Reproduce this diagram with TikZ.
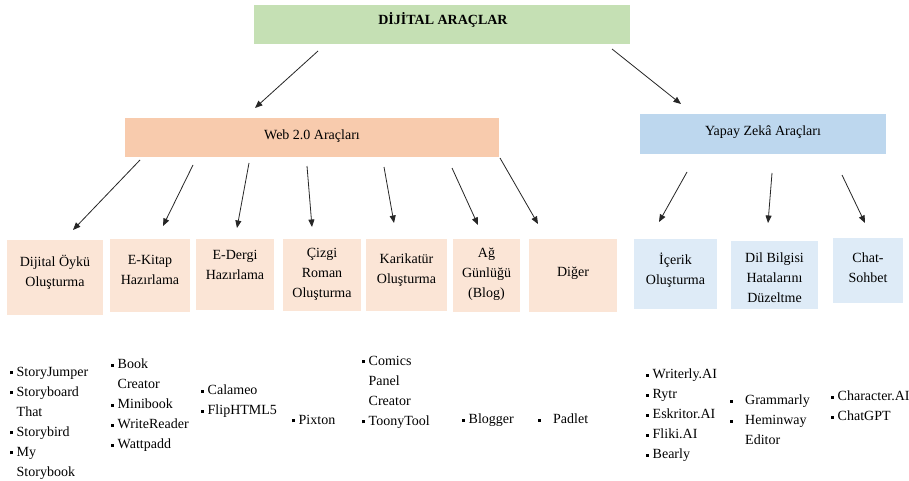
\documentclass[tikz,border=0pt]{standalone}
\usepackage{fontspec}
\setmainfont{Liberation Serif}
\usetikzlibrary{arrows.meta}
\definecolor{topgreen}{HTML}{C5E0B4}
\definecolor{weborange}{HTML}{F8CBAD}
\definecolor{aiblue}{HTML}{BDD7EE}
\definecolor{subweb}{HTML}{FBE5D6}
\definecolor{subai}{HTML}{DEEBF7}
\newcommand{\sqb}{\rule[2.2pt]{3.2pt}{3.2pt}}
\newcommand{\lbul}{\sqb\hspace{3.3pt}}
\newcommand{\lind}{\hspace*{6.5pt}}
\newcommand{\lbulw}{\sqb\hspace{11.8pt}}
\newcommand{\lindw}{\hspace*{15pt}}
\tikzset{
  boxshape/.style={inner sep=0pt, draw=none},
  txt/.style={inner sep=0pt, align=center, font=\fontsize{14}{20}\selectfont},
  listtxt/.style={inner sep=0pt, anchor=north west, align=left, font=\fontsize{14}{20}\selectfont},
  arr/.style={-{Triangle[length=7.5pt,width=6pt]}, line width=0.8pt, black!85}
}
\begin{document}
\begin{tikzpicture}[x=1pt,y=-1pt]
\useasboundingbox[fill=white] (0,0) rectangle (909,481);
% main boxes
\node[boxshape, fill=topgreen, minimum width=376pt, minimum height=39pt] (top) at (442,24.5) {};
\node[txt, font=\fontsize{14}{20}\selectfont\bfseries] (toptxt) at (443,20) {DİJİTAL ARAÇLAR};
\node[boxshape, fill=weborange, minimum width=374pt, minimum height=39pt] (web) at (312,137.5) {};
\node[txt] (webtxt) at (312,136) {Web 2.0 Araçları};
\node[boxshape, fill=aiblue, minimum width=246pt, minimum height=40pt] (ai) at (763,134) {};
\node[txt] (aitxt) at (763,132) {Yapay Zekâ Araçları};
% sub boxes web
\node[boxshape, fill=subweb, minimum width=96pt, minimum height=75pt] (d1) at (55,277.5) {};
\node[boxshape, fill=subweb, minimum width=80pt, minimum height=73pt] (d2) at (150,275.5) {};
\node[boxshape, fill=subweb, minimum width=78pt, minimum height=71pt] (d3) at (235,274.5) {};
\node[boxshape, fill=subweb, minimum width=78pt, minimum height=72pt] (d4) at (322,275) {};
\node[boxshape, fill=subweb, minimum width=81pt, minimum height=72pt] (d5) at (406.5,275) {};
\node[boxshape, fill=subweb, minimum width=67pt, minimum height=73pt] (d6) at (486.5,275.5) {};
\node[boxshape, fill=subweb, minimum width=88pt, minimum height=73pt] (d7) at (573,275.5) {};
% sub boxes ai
\node[boxshape, fill=subai, minimum width=83pt, minimum height=70pt] (a1) at (675.5,274) {};
\node[boxshape, fill=subai, minimum width=87pt, minimum height=68pt] (a2) at (774.5,275) {};
\node[boxshape, fill=subai, minimum width=70pt, minimum height=65pt] (a3) at (868,270.5) {};
% sub box texts
\node[txt] (d1t) at (55,272) {Dijital Öykü\\Oluşturma};
\node[txt] (d2t) at (150,270) {E-Kitap\\Hazırlama};
\node[txt] (d3t) at (235,265) {E-Dergi\\Hazırlama};
\node[txt] (d4t) at (322,274) {Çizgi\\Roman\\Oluşturma};
\node[txt] (d5t) at (406.5,270.5) {Karikatür\\Oluşturma};
\node[txt] (d6t) at (486.5,274) {Ağ\\Günlüğü\\(Blog)};
\node[txt] (d7t) at (573,273) {Diğer};
\node[txt] (a1t) at (675.5,270) {İçerik\\Oluşturma};
\node[txt] (a2t) at (774.5,277.5) {Dil Bilgisi\\Hatalarını\\Düzeltme};
\node[txt] (a3t) at (868,268) {Chat-\\Sohbet};
% arrow end points
\coordinate (t1s) at (318,51);  \coordinate (t1e) at (255,108);
\coordinate (t2s) at (612,49);  \coordinate (t2e) at (681,104);
\coordinate (w1s) at (140,160); \coordinate (w1e) at (73,230);
\coordinate (w2s) at (193,165); \coordinate (w2e) at (163,226);
\coordinate (w3s) at (249,163); \coordinate (w3e) at (237,228);
\coordinate (w4s) at (307,166); \coordinate (w4e) at (312,227);
\coordinate (w5s) at (384,167); \coordinate (w5e) at (394,223);
\coordinate (w6s) at (452,168); \coordinate (w6e) at (478,225);
\coordinate (w7s) at (500,158); \coordinate (w7e) at (538,224);
\coordinate (i1s) at (687,172); \coordinate (i1e) at (659,222);
\coordinate (i2s) at (772,173); \coordinate (i2e) at (768,223);
\coordinate (i3s) at (842,175); \coordinate (i3e) at (865,223);
\foreach \a in {t1,t2,w1,w2,w3,w4,w5,w6,w7,i1,i2,i3}{
  \draw[arr] (\a s) -- (\a e);
}
% lists
\node[listtxt] (l1) at (10,367) {\lbul StoryJumper\\\lbul Storyboard\\\lind That\\\lbul Storybird\\\lbul My\\\lind Storybook};
\node[listtxt] (l2) at (111,359) {\lbul Book\\\lind Creator\\\lbul Minibook\\\lbul WriteReader\\\lbul Wattpadd};
\node[listtxt] (l3) at (201,385) {\lbul Calameo\\\lbul FlipHTML5};
\node[listtxt] (l4) at (292,415) {\lbul Pixton};
\node[listtxt] (l5) at (362,356) {\lbul Comics\\\lind Panel\\\lind Creator\\\lbul ToonyTool};
\node[listtxt] (l6) at (462,414) {\lbul Blogger};
\node[listtxt] (l7) at (538,414) {\lbulw Padlet};
\node[listtxt] (l8) at (646,369) {\lbul Writerly.AI\\\lbul Rytr\\\lbul Eskritor.AI\\\lbul Fliki.AI\\\lbul Bearly};
\node[listtxt] (l9) at (730,395) {\lbulw Grammarly\\\lbulw Heminway\\\lindw Editor};
\node[listtxt] (l10) at (831,391) {\lbul Character.AI\\\lbul ChatGPT};
\end{tikzpicture}
\end{document}
